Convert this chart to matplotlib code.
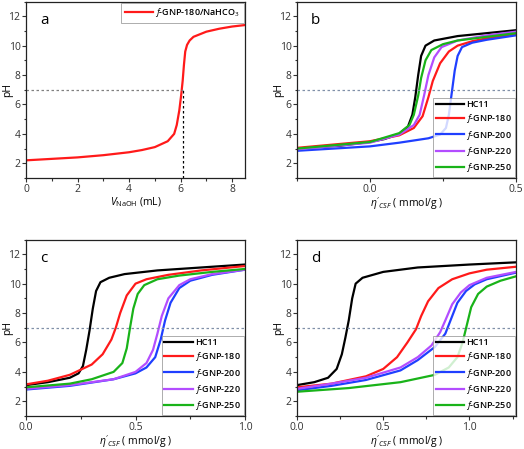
import numpy as np
import matplotlib.pyplot as plt
from matplotlib.ticker import MultipleLocator

plt.rcParams['font.family'] = ['Open Sans', 'DejaVu Sans']
plt.rcParams['mathtext.fontset'] = 'custom'
plt.rcParams['mathtext.rm'] = 'Open Sans'
plt.rcParams['mathtext.it'] = 'Open Sans:italic'
plt.rcParams['mathtext.bf'] = 'Open Sans:bold'

# panel a: f-GNP-180 / NaHCO3 titration
a_x = [0, 1, 2, 3, 4, 4.5, 5, 5.5, 5.75, 5.85, 5.95, 6.02, 6.08, 6.13, 6.18, 6.25, 6.35, 6.5, 7, 7.5, 8, 8.5]
a_y = [2.2, 2.3, 2.4, 2.55, 2.75, 2.9, 3.1, 3.5, 4.0, 4.6, 5.6, 6.6, 7.6, 8.7, 9.6, 10.05, 10.35, 10.6, 10.95, 11.15, 11.3, 11.4]
a_eq = 6.1

names = ['HC11', '$f$-GNP-180', '$f$-GNP-200', '$f$-GNP-220', '$f$-GNP-250']
colors = ['#000000', '#ff1a1a', '#1f3fff', '#b34dff', '#19b319']

# panel b
b_data = [
    ([-0.25, -0.1, 0.0, 0.05, 0.1, 0.13, 0.145, 0.155, 0.165, 0.175, 0.19, 0.22, 0.3, 0.4, 0.5],
     [3.0, 3.2, 3.45, 3.65, 4.0, 4.5, 5.3, 6.5, 8.0, 9.3, 10.0, 10.35, 10.65, 10.85, 11.05]),
    ([-0.25, 0.0, 0.1, 0.15, 0.18, 0.2, 0.215, 0.24, 0.27, 0.3, 0.35, 0.4, 0.5],
     [3.05, 3.5, 3.9, 4.4, 5.2, 6.5, 7.6, 8.8, 9.6, 10.0, 10.3, 10.5, 10.8]),
    ([-0.25, 0.0, 0.1, 0.2, 0.24, 0.26, 0.27, 0.28, 0.29, 0.3, 0.315, 0.35, 0.4, 0.5],
     [2.85, 3.15, 3.4, 3.7, 3.95, 4.4, 5.3, 6.8, 8.3, 9.3, 9.9, 10.2, 10.4, 10.7]),
    ([-0.25, 0.0, 0.1, 0.15, 0.17, 0.185, 0.2, 0.22, 0.245, 0.3, 0.4, 0.5],
     [2.95, 3.4, 3.95, 4.6, 5.3, 6.6, 8.0, 9.2, 9.9, 10.35, 10.7, 10.95]),
    ([-0.25, 0.0, 0.1, 0.135, 0.15, 0.165, 0.175, 0.19, 0.21, 0.25, 0.3, 0.4, 0.5],
     [3.0, 3.45, 4.05, 4.6, 5.3, 6.6, 7.8, 9.0, 9.7, 10.1, 10.35, 10.6, 10.85]),
]

# panel c
c_data = [
    ([0, 0.1, 0.2, 0.24, 0.26, 0.275, 0.29, 0.305, 0.32, 0.34, 0.38, 0.45, 0.6, 0.8, 1.0],
     [3.1, 3.3, 3.6, 3.9, 4.4, 5.5, 6.8, 8.3, 9.5, 10.1, 10.4, 10.65, 10.9, 11.1, 11.3]),
    ([0, 0.1, 0.2, 0.3, 0.35, 0.39, 0.41, 0.43, 0.46, 0.5, 0.55, 0.65, 0.8, 1.0],
     [3.15, 3.4, 3.8, 4.5, 5.2, 6.2, 7.0, 8.0, 9.2, 10.0, 10.3, 10.6, 10.9, 11.2]),
    ([0, 0.2, 0.4, 0.5, 0.55, 0.59, 0.615, 0.635, 0.66, 0.7, 0.75, 0.85, 1.0],
     [2.8, 3.05, 3.5, 3.9, 4.3, 5.0, 6.2, 7.5, 8.7, 9.7, 10.2, 10.6, 10.95]),
    ([0, 0.2, 0.4, 0.5, 0.55, 0.58, 0.6, 0.62, 0.65, 0.7, 0.75, 0.85, 1.0],
     [2.85, 3.1, 3.5, 4.0, 4.6, 5.5, 6.6, 7.8, 9.0, 9.9, 10.3, 10.65, 10.95]),
    ([0, 0.2, 0.3, 0.4, 0.44, 0.46, 0.475, 0.49, 0.51, 0.54, 0.6, 0.7, 0.85, 1.0],
     [2.95, 3.2, 3.5, 4.0, 4.6, 5.6, 7.0, 8.3, 9.3, 9.9, 10.3, 10.55, 10.8, 11.0]),
]

# panel d
d_data = [
    ([0, 0.1, 0.18, 0.23, 0.26, 0.28, 0.3, 0.32, 0.34, 0.38, 0.5, 0.7, 1.0, 1.27],
     [3.1, 3.3, 3.6, 4.2, 5.2, 6.3, 7.5, 9.0, 10.0, 10.4, 10.8, 11.1, 11.3, 11.45]),
    ([0, 0.2, 0.4, 0.5, 0.58, 0.64, 0.69, 0.72, 0.76, 0.82, 0.9, 1.0, 1.1, 1.27],
     [2.95, 3.2, 3.7, 4.2, 5.0, 6.0, 6.9, 7.8, 8.8, 9.7, 10.3, 10.7, 10.95, 11.15]),
    ([0, 0.2, 0.4, 0.6, 0.7, 0.8, 0.86, 0.89, 0.93, 0.98, 1.03, 1.1, 1.27],
     [2.75, 3.05, 3.45, 4.1, 4.8, 5.7, 6.6, 7.5, 8.7, 9.5, 9.95, 10.3, 10.75]),
    ([0, 0.2, 0.4, 0.6, 0.7, 0.78, 0.83, 0.86, 0.9, 0.95, 1.0, 1.1, 1.27],
     [2.85, 3.2, 3.6, 4.3, 5.0, 5.8, 6.7, 7.5, 8.6, 9.4, 9.9, 10.4, 10.8]),
    ([0, 0.3, 0.6, 0.8, 0.88, 0.93, 0.96, 0.985, 1.01, 1.05, 1.1, 1.18, 1.27],
     [2.65, 2.9, 3.3, 3.8, 4.3, 5.0, 6.0, 7.2, 8.4, 9.3, 9.8, 10.2, 10.5]),
]

eta_label = r"$\eta'_{CSF}$ ( mmol/g )"

fig = plt.figure(figsize=(5.24, 4.49), dpi=100)
w, h = 0.418, 0.393
ax_a = fig.add_axes([0.0496, 0.6036, w, h])
ax_b = fig.add_axes([0.5668, 0.6036, w, h])
ax_c = fig.add_axes([0.0496, 0.0735, w, h])
ax_d = fig.add_axes([0.5668, 0.0735, w, h])


def style(ax, letter, xlim, xmajor, xminor, xlabel, fmt):
    ax.set_xlim(*xlim)
    ax.set_ylim(1, 13)
    ax.xaxis.set_major_locator(MultipleLocator(xmajor))
    ax.xaxis.set_minor_locator(MultipleLocator(xminor))
    ax.yaxis.set_major_locator(MultipleLocator(2))
    ax.yaxis.set_minor_locator(MultipleLocator(1))
    ax.xaxis.set_major_formatter(fmt)
    ax.tick_params(which='both', direction='out', top=False, right=False,
                   labelsize=7.5, colors='#333333', width=0.8, pad=1)
    ax.tick_params(which='major', length=3)
    ax.tick_params(which='minor', length=1.8)
    for s in ax.spines.values():
        s.set_linewidth(0.9)
        s.set_color('#222222')
    ax.set_ylabel('pH', fontsize=7.5)
    ax.yaxis.set_label_coords(-0.06, 0.5)
    ax.set_xlabel(xlabel, fontsize=7.5)
    ax.xaxis.set_label_coords(0.5, -0.1)
    ax.text(0.065, 0.89, letter, transform=ax.transAxes, fontsize=11,
            va='center', ha='left')


# a
ax_a.plot(a_x, a_y, color='#ff1a1a', lw=1.6, label=r'$f$-GNP-180/NaHCO$_3$')
ax_a.plot([0, a_eq], [7, 7], ls=(0, (2, 2)), color='#808080', lw=0.9)
ax_a.plot([a_eq, a_eq], [1, 7], ls=(0, (2, 2)), color='#000000', lw=0.9)
style(ax_a, 'a', (0, 8.5), 2, 1, r'$V_{\mathrm{NaOH}}$ (mL)', '{x:.0f}')
leg = ax_a.legend(loc='upper right', frameon=True, fancybox=False,
                  handlelength=3.2, handletextpad=0.2, borderpad=0.4,
                  borderaxespad=0.15, prop={'weight': 'semibold', 'size': 6.5})
leg.get_frame().set_edgecolor('#888888')
leg.get_frame().set_linewidth(0.6)

for ax, data, letter, xlim, xmajor, xminor in [
        (ax_b, b_data, 'b', (-0.25, 0.5), 0.5, 0.25),
        (ax_c, c_data, 'c', (0, 1.0), 0.5, 0.25),
        (ax_d, d_data, 'd', (0, 1.27), 0.5, 0.25)]:
    for (xs, ys), name, col in zip(data, names, colors):
        ax.plot(xs, ys, color=col, lw=1.6, label=name)
    ax.axhline(7, ls=(0, (2, 2)), color='#8090a8', lw=0.9)
    style(ax, letter, xlim, xmajor, xminor, eta_label, '{x:.1f}')
    leg = ax.legend(loc='lower right', frameon=True, fancybox=False,
                    handlelength=3.2, handletextpad=0.2, borderpad=0.3,
                    labelspacing=0.35, borderaxespad=0.15,
                    prop={'weight': 'semibold', 'size': 6.5})
    leg.get_frame().set_edgecolor('#888888')
    leg.get_frame().set_linewidth(0.6)

fig.savefig('out.png', dpi=100)
